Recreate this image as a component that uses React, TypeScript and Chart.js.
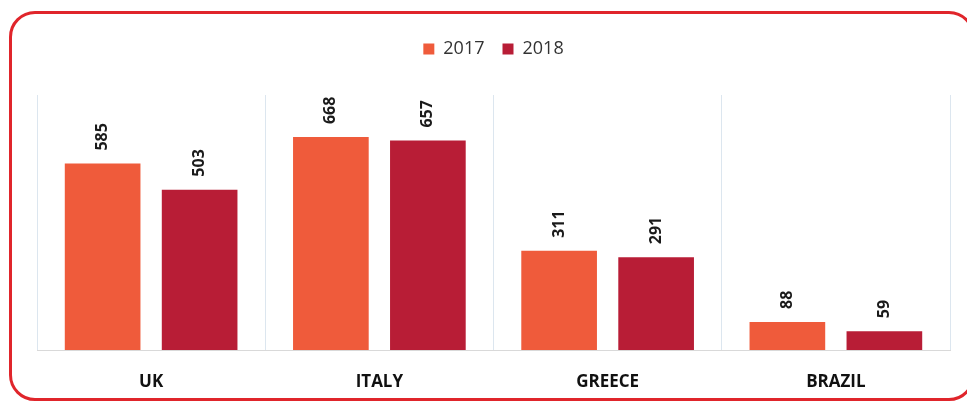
import React, { useEffect, useRef } from "react";
import { Chart, registerables } from "chart.js";

Chart.register(...registerables);

const categories = ["UK", "ITALY", "GREECE", "BRAZIL"];
const seriesNames = ["2017", "2018"];
const values2017 = [585, 668, 311, 88];
const values2018 = [503, 657, 291, 59];
const colors = ["#EF5B3B", "#B81D36"];

const FONT = "'Open Sans', 'Liberation Sans', sans-serif";

const valueLabels = {
  id: "valueLabels",
  afterDatasetsDraw(chart: any) {
    const ctx = chart.ctx;
    ctx.save();
    ctx.font = `bold 16px ${FONT}`;
    ctx.fillStyle = "#1a1a1a";
    ctx.textAlign = "left";
    ctx.textBaseline = "middle";
    chart.data.datasets.forEach((ds: any, i: number) => {
      const meta = chart.getDatasetMeta(i);
      meta.data.forEach((bar: any, j: number) => {
        ctx.save();
        ctx.translate(bar.x, bar.y - 13);
        ctx.rotate(-Math.PI / 2);
        ctx.fillText(String(ds.data[j]), 0, 0);
        ctx.restore();
      });
    });
    ctx.restore();
  },
};

const legendHeight = {
  id: "legendHeight",
  afterInit(chart: any) {
    const legend = chart.legend;
    if (!legend) return;
    const origFit = legend.fit;
    legend.fit = function () {
      origFit.call(this);
      this.height = 73;
    };
  },
};

export default function App() {
  const ref = useRef<HTMLCanvasElement>(null);
  useEffect(() => {
    if (!ref.current) return;
    const chart = new Chart(ref.current, {
      type: "bar",
      data: {
        labels: categories,
        datasets: [
          { label: seriesNames[0], data: values2017, backgroundColor: colors[0] },
          { label: seriesNames[1], data: values2018, backgroundColor: colors[1] },
        ],
      },
      options: {
        animation: false,
        responsive: false,
        maintainAspectRatio: false,
        layout: { padding: { left: 37, right: 17, top: 22, bottom: 0 } },
        datasets: { bar: { categoryPercentage: 0.85, barPercentage: 0.78 } },
        plugins: {
          legend: {
            position: "top",
            labels: {
              boxWidth: 11,
              boxHeight: 11,
              color: "#333333",
              font: { family: FONT, size: 18 },
              padding: 18,
            },
          },
          tooltip: { enabled: false },
        },
        scales: {
          x: {
            grid: { display: true, offset: true, color: "#DCE6EF", drawTicks: false },
            border: { display: true, color: "#D9D9D9" },
            ticks: { color: "#111111", font: { family: FONT, size: 17, weight: "bold" }, padding: 22 },
            afterFit(scale: any) {
              scale.height = 53;
            },
          },
          y: {
            display: false,
            min: 0,
            max: 800,
          },
        },
      },
      plugins: [valueLabels, legendHeight],
    });
    return () => chart.destroy();
  }, []);
  return (
    <div style={{ position: "fixed", left: 0, top: 0, width: 967, height: 403, background: "#fff", overflow: "hidden" }}>
      <canvas ref={ref} width={967} height={403} style={{ position: "absolute", left: 0, top: 0 }} />
      <div
        style={{
          position: "absolute",
          left: 9,
          top: 11,
          width: 966,
          height: 390,
          boxSizing: "border-box",
          border: "3px solid #E0252B",
          borderRadius: 26,
          pointerEvents: "none",
        }}
      />
    </div>
  );
}
